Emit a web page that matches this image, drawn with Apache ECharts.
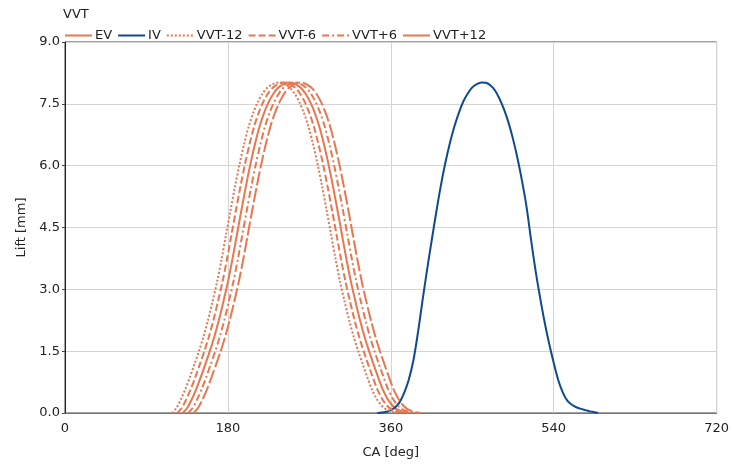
<!DOCTYPE html>
<html>
<head>
<meta charset="utf-8">
<script src="https://cdn.jsdelivr.net/npm/echarts@6/dist/echarts.min.js"></script>
<style>
html,body{margin:0;padding:0;background:#fff;}
#c{width:732px;height:467px;}
</style>
</head>
<body>
<div id="c"></div>
<script>
// ---- data ----
const xTicks = [0, 180, 360, 540, 720];
const yTicks = [0, 1.5, 3.0, 4.5, 6.0, 7.5, 9.0];

// exhaust valve lift profile (mm), shared by EV and its VVT phase variants
const evLift = [0, 0.12, 0.33, 0.58, 0.87, 1.18, 1.5, 1.85, 2.25, 2.7, 3.18, 3.73, 4.33, 4.93, 5.51, 6.05, 6.53, 6.95, 7.28, 7.54, 7.74, 7.88, 7.96, 8.01,
  8.02,
  8.01, 7.96, 7.88, 7.74, 7.54, 7.28, 6.95, 6.53, 6.05, 5.51, 4.93, 4.33, 3.73, 3.18, 2.7, 2.25, 1.85, 1.5, 1.18, 0.87, 0.58, 0.36, 0.2, 0.1, 0.05, 0.02, 0];
const evAngle = [130, 135, 140, 145, 150, 155, 160, 165, 170, 175, 180, 185, 190, 195, 200, 205, 210, 215, 220, 225, 230, 235, 240, 245,
  248,
  251, 256, 261, 266, 271, 276, 281, 286, 291, 296, 301, 306, 311, 316, 321, 326, 331, 336, 341, 346, 351, 356, 361, 366, 371, 376, 381];
const vvtM12Angle = [118, 123, 128, 133, 138, 143, 148, 153, 158, 163, 168, 173, 178, 183, 188, 193, 198, 203, 208, 213, 218, 223, 228, 233,
  236,
  239, 244, 249, 254, 259, 264, 269, 274, 279, 284, 289, 294, 299, 304, 309, 314, 319, 324, 329, 334, 339, 344, 349, 354, 359, 364, 369];
const vvtM6Angle = [124, 129, 134, 139, 144, 149, 154, 159, 164, 169, 174, 179, 184, 189, 194, 199, 204, 209, 214, 219, 224, 229, 234, 239,
  242,
  245, 250, 255, 260, 265, 270, 275, 280, 285, 290, 295, 300, 305, 310, 315, 320, 325, 330, 335, 340, 345, 350, 355, 360, 365, 370, 375];
const vvtP6Angle = [136, 141, 146, 151, 156, 161, 166, 171, 176, 181, 186, 191, 196, 201, 206, 211, 216, 221, 226, 231, 236, 241, 246, 251,
  254,
  257, 262, 267, 272, 277, 282, 287, 292, 297, 302, 307, 312, 317, 322, 327, 332, 337, 342, 347, 352, 357, 362, 367, 372, 377, 382, 387];
const vvtP12Angle = [142, 147, 152, 157, 162, 167, 172, 177, 182, 187, 192, 197, 202, 207, 212, 217, 222, 227, 232, 237, 242, 247, 252, 257,
  260,
  263, 268, 273, 278, 283, 288, 293, 298, 303, 308, 313, 318, 323, 328, 333, 338, 343, 348, 353, 358, 363, 368, 373, 378, 383, 388, 393];

// intake valve
const ivAngle = [345, 350, 355, 360, 365, 370, 375, 380, 385, 390, 395, 400, 405, 410, 415, 420, 425, 430, 435, 440, 445, 450, 455, 460,
  465, 470, 475, 480, 485, 490, 495, 500, 505, 510, 515, 520, 525, 530, 535, 540, 545, 550, 555, 560, 565, 570, 575, 580, 585, 589];
const ivLift = [0, 0.01, 0.03, 0.07, 0.14, 0.27, 0.5, 0.82, 1.28, 1.95, 2.72, 3.46, 4.16, 4.84, 5.48, 6.04, 6.52, 6.93, 7.27, 7.55, 7.75, 7.9, 7.98, 8.02,
  8.01, 7.95, 7.83, 7.63, 7.37, 7.05, 6.65, 6.18, 5.63, 5.0, 4.2, 3.45, 2.8, 2.2, 1.68, 1.22, 0.8, 0.5, 0.3, 0.2, 0.14, 0.1, 0.07, 0.04, 0.02, 0];

const seriesNames = ['EV', 'IV', 'VVT-12', 'VVT-6', 'VVT+6', 'VVT+12'];

// ---- build chart ----
const ORANGE = '#E8764F';
const BLUE = '#0F4A91';
function pairs(xs, ys) { return xs.map((x, i) => [x, ys[i]]); }

const defs = [
  { name: 'EV',     data: pairs(evAngle, evLift),     color: ORANGE, type: 'solid' },
  { name: 'IV',     data: pairs(ivAngle, ivLift),     color: BLUE,   type: 'solid' },
  { name: 'VVT-12', data: pairs(vvtM12Angle, evLift), color: ORANGE, type: [2, 2] },
  { name: 'VVT-6',  data: pairs(vvtM6Angle, evLift),  color: ORANGE, type: [7, 3] },
  { name: 'VVT+6',  data: pairs(vvtP6Angle, evLift),  color: ORANGE, type: [7, 3, 2, 3] },
  { name: 'VVT+12', data: pairs(vvtP12Angle, evLift), color: ORANGE, type: [14, 3] }
];

const chart = echarts.init(document.getElementById('c'), null, { renderer: 'canvas' });
const font = 'DejaVu Sans, Verdana, sans-serif';

chart.setOption({
  animation: false,
  backgroundColor: '#fff',
  textStyle: { fontFamily: font },
  title: {
    text: 'VVT', left: 63, top: 8, padding: 0,
    textStyle: { fontSize: 13, fontWeight: 'normal', color: '#222', fontFamily: font }
  },
  legend: {
    left: 64, top: 29, padding: 0,
    itemWidth: 27, itemHeight: 10, itemGap: 5,
    itemStyle: { opacity: 0 },
    textStyle: { fontSize: 13, color: '#222', fontFamily: font, padding: [0, 0, 0, -2] },
    data: seriesNames.map(n => n === 'VVT+12' ? { name: n, lineStyle: { type: 'solid' } } : { name: n })
  },
  grid: { left: 65, right: 13, top: 42, bottom: 54, show: true, borderColor: '#444', borderWidth: 1 },
  xAxis: {
    type: 'value', min: xTicks[0], max: xTicks[xTicks.length - 1], interval: 180,
    name: 'CA [deg]', nameLocation: 'middle', nameGap: 33,
    nameTextStyle: { fontSize: 13, color: '#222', fontFamily: font },
    axisLine: { lineStyle: { color: '#777' } },
    axisTick: { show: false },
    axisLabel: { fontSize: 13, color: '#222', margin: 9, fontFamily: font },
    splitLine: { lineStyle: { color: '#d4d4d4' } }
  },
  yAxis: {
    type: 'value', min: yTicks[0], max: yTicks[yTicks.length - 1], interval: 1.5,
    name: 'Lift [mm]', nameLocation: 'middle', nameGap: 36, nameRotate: 90,
    nameTextStyle: { fontSize: 13, color: '#222', fontFamily: font },
    axisLine: { show: true, lineStyle: { color: '#222' } },
    axisTick: { show: true, length: 3, lineStyle: { color: '#444' } },
    axisLabel: { fontSize: 13, color: '#222', margin: 5, fontFamily: font, formatter: v => v.toFixed(1) },
    splitLine: { lineStyle: { color: '#d4d4d4' } }
  },
  series: defs.map(d => ({
    name: d.name, type: 'line', data: d.data,
    smooth: 0.3, showSymbol: false, symbol: 'none',
    color: d.color,
    lineStyle: { color: d.color, width: 2, type: d.type },
    clip: true
  }))
});
</script>
</body>
</html>
